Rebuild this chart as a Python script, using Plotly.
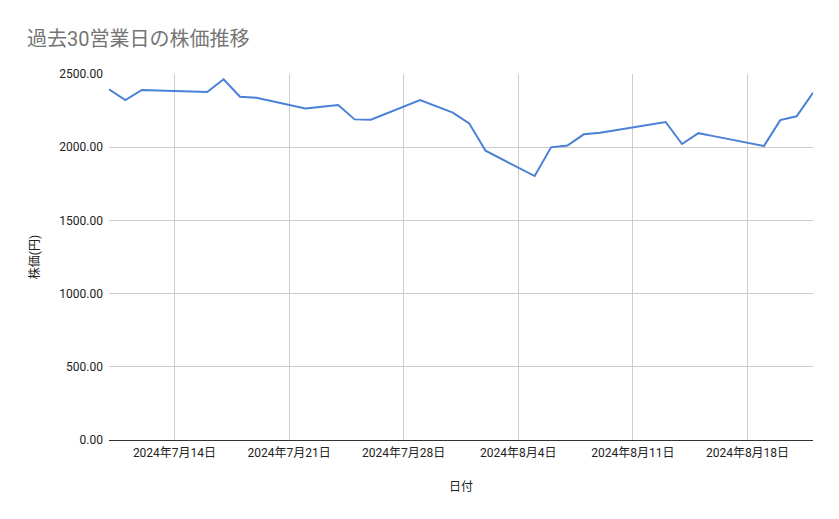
# 過去30営業日の株価推移 (Google Sheets style line chart)

import datetime as dt
import plotly.graph_objects as go

# Data
dates = [
    "2024-07-10", "2024-07-11", "2024-07-12", "2024-07-16", "2024-07-17",
    "2024-07-18", "2024-07-19", "2024-07-22", "2024-07-23", "2024-07-24",
    "2024-07-25", "2024-07-26", "2024-07-29", "2024-07-30", "2024-07-31",
    "2024-08-01", "2024-08-02", "2024-08-05", "2024-08-06", "2024-08-07",
    "2024-08-08", "2024-08-09", "2024-08-13", "2024-08-14", "2024-08-15",
    "2024-08-16", "2024-08-19", "2024-08-20", "2024-08-21", "2024-08-22",
]
prices = [
    2395, 2322, 2391, 2377, 2464,
    2345, 2338, 2265, 2276, 2288,
    2190, 2188, 2322, 2279, 2236,
    2163, 1976, 1803, 1999, 2011,
    2088, 2099, 2172, 2022, 2096,
    2074, 2008, 2185, 2211, 2372,
]
tick_dates = ["2024-07-14", "2024-07-21", "2024-07-28",
              "2024-08-04", "2024-08-11", "2024-08-18"]

tick_labels = []
for d in tick_dates:
    day = dt.date.fromisoformat(d)
    tick_labels.append(f"{day.year}年{day.month}月{day.day}日")

font_family = "Roboto, 'Noto Sans CJK JP', sans-serif"

fig = go.Figure()
fig.add_trace(go.Scatter(
    x=dates, y=prices, mode="lines",
    line=dict(color="#4a80d6", width=2),
    name="株価",
))

# the page body adds an 8px margin, so the figure is a little smaller
fig.update_layout(
    width=831, height=511,
    margin=dict(l=101, r=26, t=66, b=79),
    paper_bgcolor="white", plot_bgcolor="white",
    showlegend=False,
    font=dict(family=font_family, size=12, color="#222222"),
    title=dict(
        text="過去30営業日の株価推移",
        x=0.023, xanchor="left", y=0.939, yanchor="middle",
        font=dict(family=font_family, size=20, color="#757575"),
    ),
)

fig.update_xaxes(
    type="date",
    range=[dates[0], dates[-1]],
    tickvals=tick_dates, ticktext=tick_labels,
    showgrid=True, gridcolor="#cccccc", gridwidth=1,
    ticks="", showline=False, zeroline=False,
    ticklabelstandoff=4,
    tickfont=dict(size=12, color="#222222"),
    title=dict(text="日付", standoff=23, font=dict(size=12, color="#222222")),
)

fig.update_yaxes(
    range=[0, 2500], dtick=500, tickformat=".2f",
    showgrid=True, gridcolor="#cccccc", gridwidth=1,
    zeroline=True, zerolinecolor="#333333", zerolinewidth=1,
    ticks="", showline=False,
    ticklabelstandoff=5,
    tickfont=dict(size=12, color="#222222"),
    title=dict(text="株価(円)", standoff=17, font=dict(size=12, color="#222222")),
)

fig.write_html("out.html")
